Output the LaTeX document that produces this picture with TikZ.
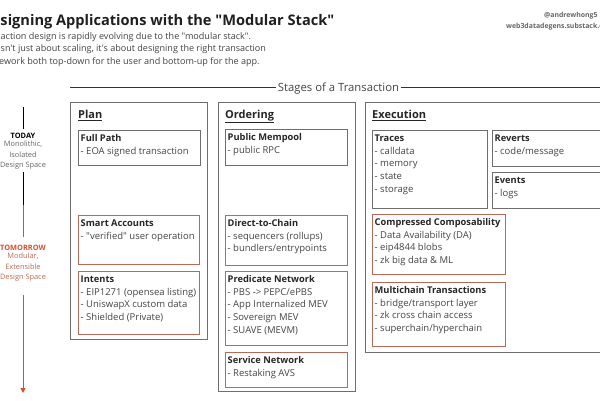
\documentclass[tikz,border=0pt]{standalone}
\usepackage{fontspec}
\setmainfont{Open Sans}[Ligatures=TeXOff]
\usetikzlibrary{calc,arrows.meta}
\definecolor{boxgray}{HTML}{6E6E6E}
\definecolor{boxred}{HTML}{B86A55}
\definecolor{tlred}{HTML}{D2502E}
\definecolor{txtgray}{HTML}{444444}
\definecolor{lightgray}{HTML}{666666}
\tikzset{
  subbox/.style={draw, line width=0.9pt, rectangle, anchor=north west, inner sep=0pt},
  outerbox/.style={draw=boxgray, line width=1.1pt, rectangle, anchor=north west, inner sep=0pt},
  boxtxt/.style={anchor=north west, inner sep=0pt, align=left, text=txtgray, font=\fontsize{9.5}{12.65}\selectfont},
  heading/.style={anchor=base west, inner sep=0pt, text=black!85, font=\fontsize{11}{12}\selectfont\bfseries},
  tltxt/.style={anchor=base, inner sep=0pt, font=\fontsize{7.4}{10.4}\selectfont, align=center},
  subt/.style={anchor=base west, inner sep=0pt, text=txtgray, font=\fontsize{9.05}{12.5}\selectfont},
}
\newcommand{\mybox}[8]{%
  \node[subbox, draw=#6, minimum width=#4pt, minimum height=#5pt] (#1) at (#2,#3) {};
  \node[boxtxt] (#1t) at ($(#1.north west)+(2.5,2.4)$) {\strut{\fontsize{9.3}{12.65}\selectfont\bfseries\textcolor{black!85}{#7}}\\#8};
}
\begin{document}
\begin{tikzpicture}[x=1pt,y=-1pt]
\useasboundingbox (0,0) rectangle (600,400);
\clip (0,0) rectangle (600,400);
\fill[white] (0,0) rectangle (600,400);
% title
\node[anchor=base west, inner sep=0pt, font=\fontsize{14.6}{18}\selectfont\bfseries, text=black!88] (title) at (0.3,25) {signing Applications with the "Modular Stack"};
\node[subt] (s1) at (0.5,39) {action design is rapidly evolving due to the "modular stack".};
\node[subt] (s2) at (0.5,51.6) {sn't just about scaling, it's about designing the right transaction};
\node[subt] (s3) at (-1,64) {ework both top-down for the user and bottom-up for the app.};
\node[anchor=base west, inner sep=0pt, font=\fontsize{6.9}{9}\selectfont\bfseries, text=lightgray] (tw) at (544,17) {@andrewhong5};
\node[anchor=base west, inner sep=0pt, font=\fontsize{6.9}{9}\selectfont\bfseries, text=lightgray] (web) at (506,28.5) {web3datadegens.substack.com};
% stages line
\node[anchor=base, inner sep=1.5pt, font=\fontsize{11.3}{13}\selectfont, text=txtgray] (stages) at (338.5,91.8) {Stages of a Transaction};
\coordinate (sl) at (70,87.3);
\coordinate (sr) at (605,87.3);
\draw[line width=0.9pt, black!80] (sl) -- (sl -| stages.west);
\draw[line width=0.9pt, black!80] (stages.east |- sr) -- (sr);
% timeline
\coordinate (t0) at (23,107);
\coordinate (t1) at (23,129);
\coordinate (t2) at (23,172);
\coordinate (t3) at (23,205);
\coordinate (t4) at (23,237);
\coordinate (t5) at (23,295);
\coordinate (t6) at (23,393);
\draw[line width=1pt, black] (t0) -- (t1);
\draw[line width=1pt, black] (t2) -- (t3);
\draw[line width=1pt, tlred] (t3) -- (t4);
\draw[line width=1pt, tlred, -{Triangle[length=5pt,width=5pt]}] (t5) -- (t6);
\node[tltxt, text=black] (today) at (23,138) {\textbf{TODAY}};
\node[tltxt, anchor=north, text=lightgray] (todayd) at (23,141) {Monolithic,\\Isolated\\Design Space};
\node[tltxt, text=tlred] (tom) at (23,250) {\textbf{TOMORROW}};
\node[tltxt, anchor=north, text=boxred] (tomd) at (23,253) {Modular,\\Extensible\\Design Space};
% outer boxes
\node[outerbox, minimum width=137pt, minimum height=237pt] (plan) at (70,102) {};
\node[outerbox, minimum width=137pt, minimum height=289pt] (ord) at (218,102) {};
\node[outerbox, minimum width=250pt, minimum height=250pt] (exe) at (365,102) {};
\node[heading] (planh) at (78,118.5) {\underline{Plan}};
\node[heading] (ordh) at (225,118.5) {\underline{Ordering}};
\node[heading] (exeh) at (372,118.5) {\underline{Execution}};
% plan
\mybox{fp}{78}{130}{122}{35}{boxgray}{Full Path}{- EOA signed transaction}
\mybox{sa}{78}{215}{121}{49}{boxred}{Smart Accounts}{- "verified" user operation}
\mybox{in}{78}{271}{121}{63}{boxred}{Intents}{- EIP1271 (opensea listing)\\- UniswapX custom data\\- Shielded (Private)}
% ordering
\mybox{pm}{225}{129}{122}{36}{boxgray}{Public Mempool}{- public RPC}
\mybox{dc}{225}{215}{122}{50}{boxred}{Direct-to-Chain}{- sequencers (rollups)\\- bundlers/entrypoints}
\mybox{pn}{225}{271}{122}{74}{boxred}{Predicate Network}{- PBS -> PEPC/ePBS\\- App Internalized MEV\\- Sovereign MEV\\- SUAVE (MEVM)}
\mybox{sn}{225}{352}{122}{35}{boxred}{Service Network}{- Restaking AVS}
% execution
\mybox{tr}{372}{130}{115}{78}{boxgray}{Traces}{- calldata\\- memory\\- state\\- storage}
\mybox{rv}{492}{130}{115}{36}{boxgray}{Reverts}{- code/message}
\mybox{ev}{492}{172}{115}{36}{boxgray}{Events}{- logs}
\mybox{cc}{372}{214}{133}{60}{boxred}{Compressed Composability}{- Data Availability (DA)\\- eip4844 blobs\\- zk big data \& ML}
\mybox{mt}{372}{282}{133}{64}{boxred}{Multichain Transactions}{- bridge/transport layer\\- zk cross chain access\\- superchain/hyperchain}
\end{tikzpicture}
\end{document}
